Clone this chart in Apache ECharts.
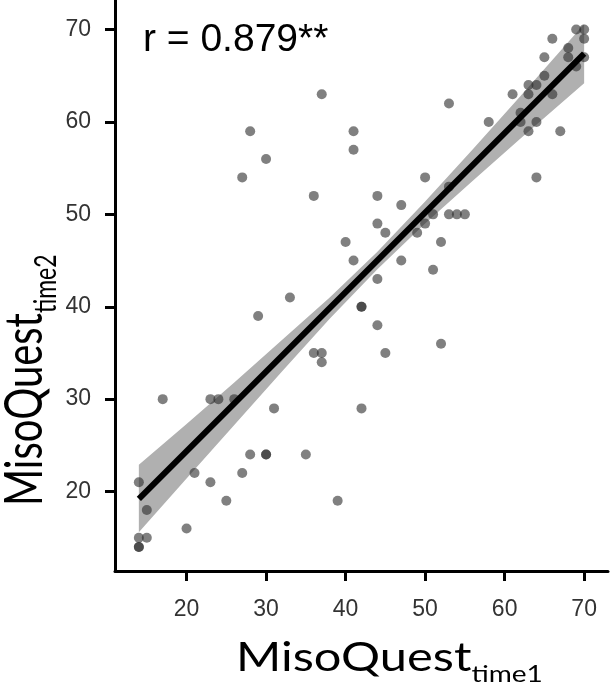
<!DOCTYPE html>
<html>
<head>
<meta charset="utf-8">
<script src="https://cdn.jsdelivr.net/npm/echarts@6/dist/echarts.min.js"></script>
<style>
  html, body { margin: 0; padding: 0; background: #fff; }
  #chart { width: 610px; height: 684px; }
</style>
</head>
<body>
<div id="chart"></div>
<script>
// points (time1, time2); doubled entries are the darker overlapping dots
const time1 = [14, 14, 14, 15, 15, 14, 20, 17, 21, 23, 25, 23, 24, 26, 27, 28, 30, 30, 31, 35, 39, 42,
  29, 33, 36, 37, 37, 45, 52, 44, 42, 42, 44, 51, 41, 47, 40, 52, 45, 49, 44, 50, 51, 53, 54, 55, 47,
  36, 44, 53, 27, 50, 64, 30, 41, 28, 41, 63, 67, 58, 62, 64, 62, 53, 37, 61, 63, 66, 63, 64, 65, 69,
  65, 68, 70, 68, 66, 70, 69, 70]
const time2 = [14, 14, 15, 15, 18, 21, 16, 30, 22, 21, 19, 30, 30, 30, 22, 24, 24, 24, 29, 24, 19, 29,
  39, 41, 35, 35, 34, 35, 36, 38, 40, 40, 43, 44, 45, 45, 47, 47, 48, 48, 49, 49, 50, 50, 50, 50, 51,
  52, 52, 53, 54, 54, 54, 56, 57, 59, 59, 59, 59, 60, 60, 60, 61, 62, 63, 63, 63, 63, 64, 64, 65, 66,
  67, 67, 67, 68, 69, 69, 70, 70]

// fitted line ends and confidence band
const fitX = [14, 70]
const fitY = [19.2, 67.4]
const bandX = [14, 20, 26, 32, 38, 44, 50, 56, 62, 70]
const bandLo = [15.6, 21.4, 27.2, 33.0, 38.7, 44.05, 49.0, 53.65, 58.2, 64.2]
const bandHi = [22.9, 27.3, 31.8, 36.4, 41.0, 45.95, 51.4, 57.05, 62.8, 70.6]

const tickValues = [20, 30, 40, 50, 60, 70]
const rText = 'r = 0.879**'

const chart = echarts.init(document.getElementById('chart'))

const axisCommon = {
  type: 'value',
  splitLine: { show: false },
  axisLine: { show: true, lineStyle: { color: '#000', width: 3 } },
  axisTick: { show: true, length: 10, customValues: tickValues, lineStyle: { color: '#000', width: 3 } },
  axisLabel: {
    customValues: tickValues,
    fontSize: 23,
    color: '#333',
    fontFamily: 'Liberation Sans'
  }
}

const titleRich = {
  a: { fontSize: 40, fontFamily: 'Lato', lineHeight: 56, color: '#000' },
  b: { fontSize: 23, fontFamily: 'Lato', lineHeight: 23, verticalAlign: 'bottom', color: '#000' }
}

chart.setOption({
  animation: false,
  grid: { left: 115, right: 2, top: 0, bottom: 113, containLabel: false },
  xAxis: Object.assign({}, axisCommon, {
    min: 11,
    max: 73,
    axisLabel: Object.assign({}, axisCommon.axisLabel, { margin: 27 })
  }),
  yAxis: Object.assign({}, axisCommon, {
    min: 11.4,
    max: 73.2,
    axisLabel: Object.assign({}, axisCommon.axisLabel, { margin: 24 })
  }),
  graphic: [
    {
      type: 'text',
      x: 143,
      y: 40,
      style: {
        text: rText,
        fontSize: 39,
        fontFamily: 'Liberation Sans',
        fill: '#000',
        verticalAlign: 'middle',
        align: 'left'
      }
    },
    {
      type: 'text',
      x: 236,
      y: 630,
      scaleX: 1.22,
      style: {
        text: '{a|MisoQuest}{b|time1}',
        rich: titleRich,
        align: 'left',
        verticalAlign: 'top'
      }
    },
    {
      type: 'text',
      x: -11,
      y: 506,
      rotation: Math.PI / 2,
      scaleY: 1.3,
      style: {
        text: '{a|MisoQuest}{b|time2}',
        rich: titleRich,
        align: 'left',
        verticalAlign: 'top'
      }
    }
  ],
  series: [
    {
      type: 'custom',
      silent: true,
      z: 1,
      data: bandX.map((x, i) => [x, bandLo[i], bandHi[i]]),
      encode: { x: 0, y: [1, 2] },
      renderItem(params, api) {
        if (params.dataIndex !== 0) return
        const upper = bandX.map((x, i) => api.coord([x, bandHi[i]]))
        const lower = bandX.map((x, i) => api.coord([x, bandLo[i]])).reverse()
        return {
          type: 'polygon',
          shape: { points: upper.concat(lower) },
          style: { fill: '#b0b0b0' }
        }
      }
    },
    {
      type: 'scatter',
      z: 2,
      symbolSize: 10,
      data: time1.map((x, i) => [x, time2[i]]),
      itemStyle: { color: 'rgba(40,40,40,0.74)' }
    },
    {
      type: 'line',
      z: 3,
      silent: true,
      symbol: 'none',
      data: fitX.map((x, i) => [x, fitY[i]]),
      lineStyle: { color: '#000', width: 6 }
    }
  ]
})
</script>
</body>
</html>
